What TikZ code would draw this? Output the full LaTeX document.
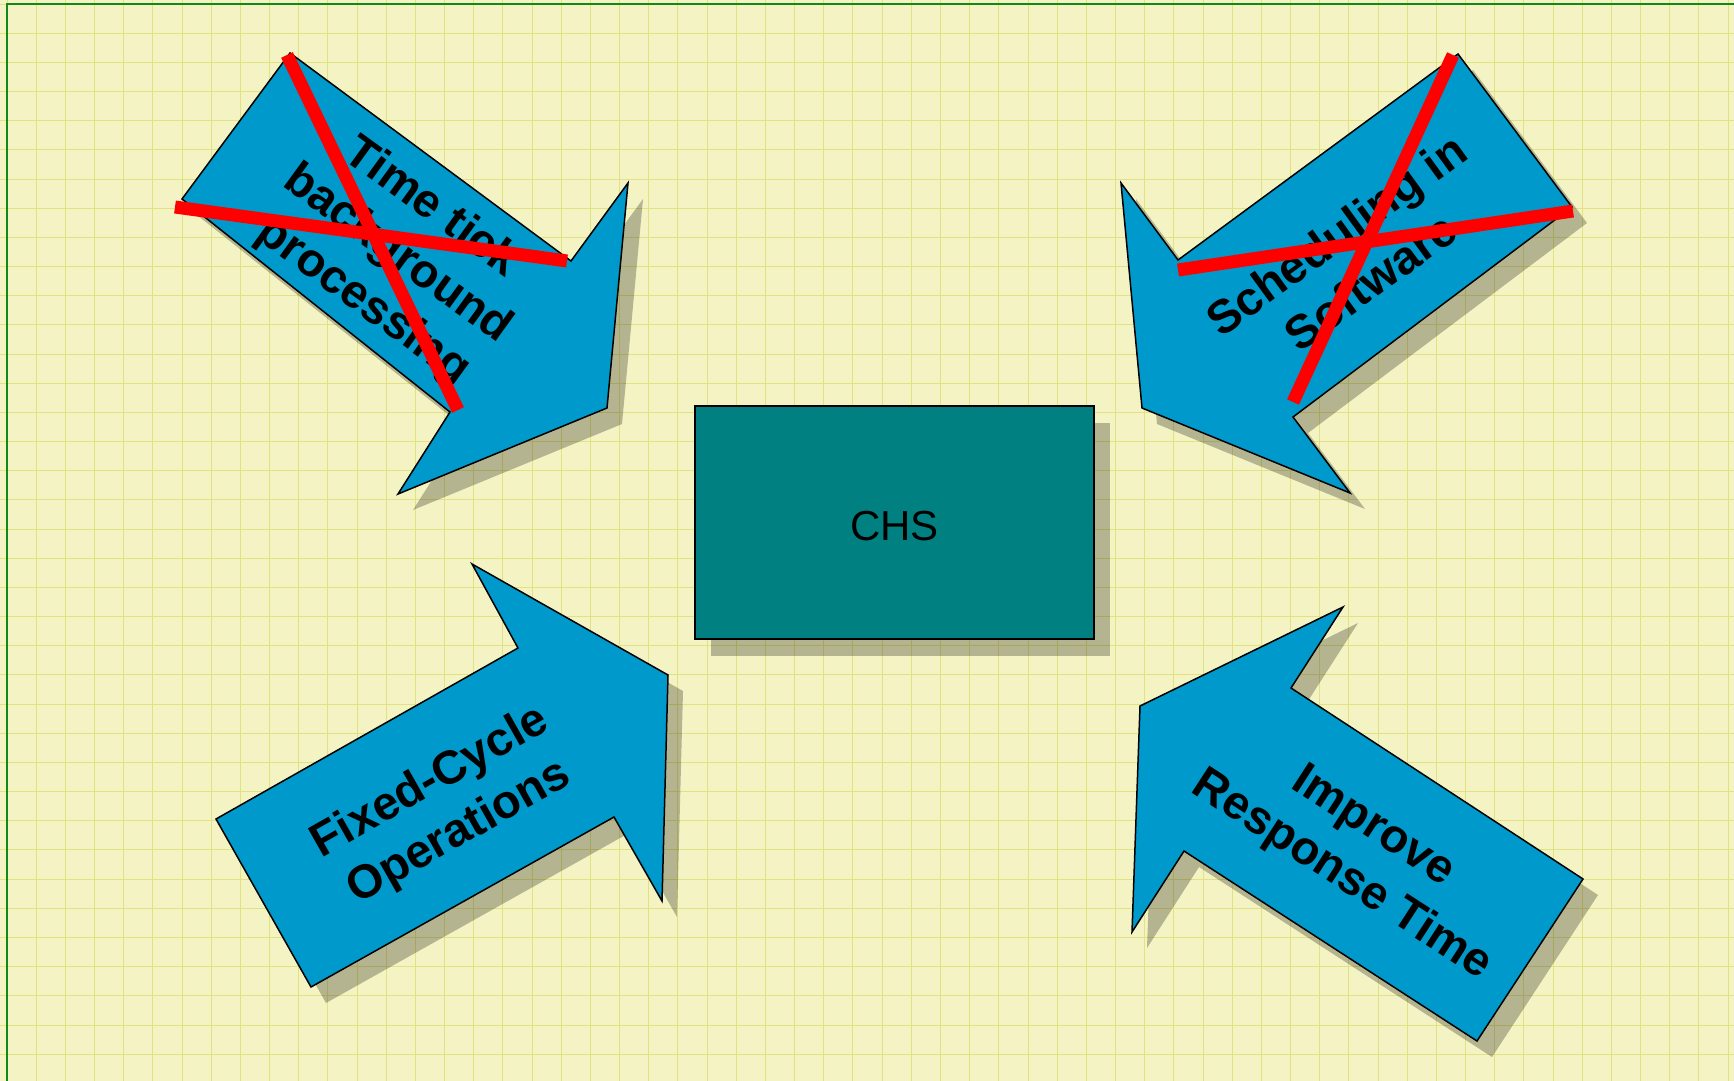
\documentclass[tikz,border=0pt]{standalone}
\usepackage{fontspec}
\setmainfont{Liberation Sans}
\usetikzlibrary{shadows}
\definecolor{paperyellow}{RGB}{243,243,196}
\definecolor{gridyellow}{RGB}{226,226,128}
\definecolor{framegreen}{RGB}{20,135,20}
\definecolor{arrowblue}{RGB}{0,153,204}
\definecolor{boxteal}{RGB}{0,128,128}
\definecolor{strikered}{RGB}{255,0,0}
\tikzset{
  gridline/.style ={line width=0.9pt, gridyellow},
  frameline/.style={line width=2.5pt, framegreen},
  bigarrow/.style ={fill=arrowblue, draw=black, line width=1.5pt, line join=miter,
                    drop shadow={shadow xshift=15pt, shadow yshift=-16pt,
                                 fill=black, opacity=0.26}},
  chsbox/.style   ={rectangle, draw=black, fill=boxteal, line width=2pt,
                    minimum width=399pt, minimum height=233pt, inner sep=0pt,
                    text height=36pt, text depth=0pt,
                    font=\fontsize{42}{50}\selectfont,
                    drop shadow={shadow xshift=16pt, shadow yshift=-17pt,
                                 fill=black, opacity=0.26}},
  arrowtext/.style={align=center, inner sep=0pt, font=\fontsize{47}{58}\selectfont\bfseries},
  strike/.style   ={line width=13pt, strikered},
}

\begin{document}
\begin{tikzpicture}[x=1pt, y=-1pt]
\useasboundingbox (0,0) rectangle (1734,1081);
% paper and grid
\fill[paperyellow] (0,0) rectangle (1734,1081);
\foreach \i in {0,...,59}
  \draw[gridline] ({7+29.17*\i},0) -- ({7+29.17*\i},1081);
\foreach \j in {0,...,37}
  \draw[gridline] (0,{4+29.17*\j}) -- (1734,{4+29.17*\j});
\draw[frameline] (7,1081) -- (7,4) -- (1734,4);

% centre block
\node[chsbox] (chs) at (894.5,522.5) {CHS};

% the four arrows
\draw[bigarrow] (290,53) -- (571,261) -- (628,183) -- (607,408) -- (398,494)
  -- (450,412) -- (182,199) -- cycle;
\draw[bigarrow] (1458,54) -- (1178,260) -- (1121,183) -- (1142,408) -- (1350,493)
  -- (1293,417) -- (1572,207) -- cycle;
\draw[bigarrow] (216,819) -- (518,648) -- (472,564) -- (668,675) -- (662,901)
  -- (614,817) -- (311,987) -- cycle;
\draw[bigarrow] (1343,607) -- (1291,688) -- (1583,879) -- (1477,1041) -- (1184,851)
  -- (1132,932) -- (1140,706) -- cycle;

\node[arrowtext, rotate=-36] (ticktext) at (397,255) {Time tick\\background\\processing};
\node[arrowtext, rotate=36] (schedtext) at (1353,258) {Scheduling in\\Software};
\node[arrowtext, rotate=29.5] (fixedtext) at (445,808) {Fixed-Cycle\\Operations};
\node[arrowtext, rotate=-33] (resptext) at (1357,852) {Improve\\Response Time};

% crossed out
\draw[strike] (287,55) -- (458,410);
\draw[strike] (175,207) -- (567,261);
\draw[strike] (1453,55) -- (1293,402);
\draw[strike] (1178,270) -- (1573,211);
\end{tikzpicture}
\end{document}
